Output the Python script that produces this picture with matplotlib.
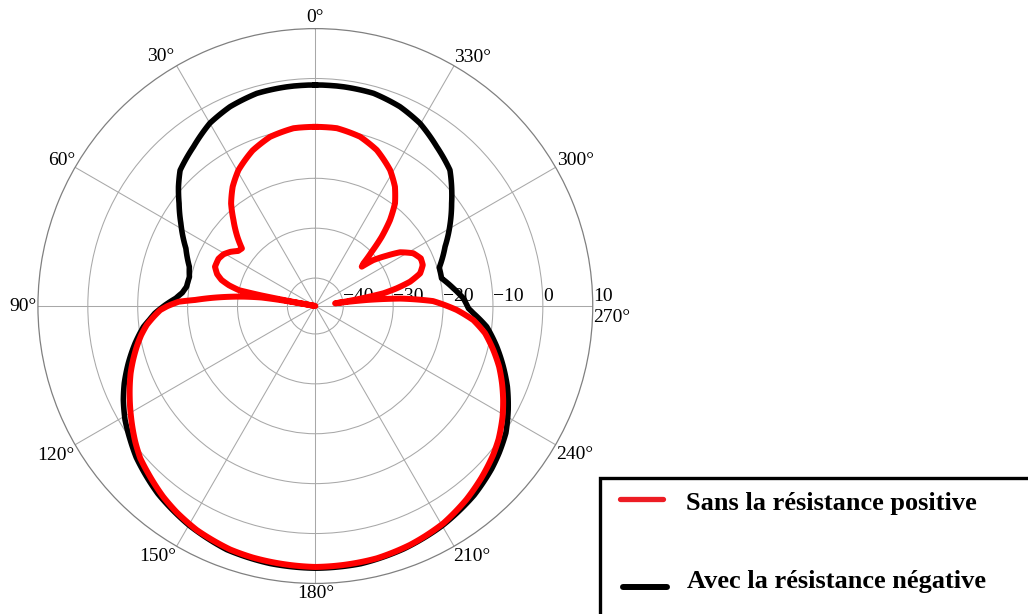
import numpy as np
import matplotlib.pyplot as plt
from matplotlib import transforms
from matplotlib.lines import Line2D
from matplotlib.patches import Rectangle

plt.rcParams['font.family'] = ['Liberation Serif', 'DejaVu Serif']
plt.rcParams['font.size'] = 14

# diagramme de rayonnement (angle en degrés, niveau en dB)
ang_sans = [0, 7, 15, 22, 29.5, 34.7, 39.4, 43.6, 48.4, 51.9, 54.5, 57.5, 60.5, 64,
            68.6, 72, 74.5, 76.5, 78.3, 78.9, 79.6, 80.3, 81, 82.5, 84, 85.5, 87.1,
            88.2, 90, 91.5, 94, 96.4, 99.5, 102.8, 106.5, 110, 116, 121, 127, 131,
            135, 141.4, 146, 152.1, 160.7, 166, 172.2, 180, 186.2, 193.7, 201.6,
            205.5, 210.5, 218, 224, 230, 234, 239.4, 243.4, 247.5, 251.7, 256.1,
            260.9, 264.9, 268.4, 272.4, 275, 276.7, 277.8, 279.3, 280.6, 282.3,
            284.4, 287.3, 290.9, 294.3, 298.3, 302.4, 305.2, 308.4, 310.3, 311.6,
            313.9, 316.2, 319, 322.2, 326.3, 331.2, 338.5, 345.2, 353.1, 360]
db_sans = [-9.7, -9.7, -10.5, -12.0, -14.3, -16.5, -19.0, -21.8, -24.7, -26.9, -26.6,
           -25.4, -24.5, -24.0, -24.0, -24.9, -26.1, -27.8, -30.0, -34.5, -45.6, -38.5,
           -34.7, -31.2, -28.0, -24.8, -21.5, -18.2, -16.0, -14.5, -13.0, -11.6, -10.2,
           -8.9, -7.5, -6.2, -4.2, -2.5, -0.4, 0.9, 1.8, 3.3, 4.2, 5.2, 6.1, 6.35, 6.5,
           6.7, 6.6, 6.45, 5.9, 5.5, 4.95, 3.6, 2.3, 0.9, -0.2, -2.0, -3.5, -5.1, -6.8,
           -8.85, -11.15, -13.8, -17.25, -22.0, -28.5, -35.2, -41.6, -36.5, -31.7,
           -28.9, -26.0, -23.6, -22.55, -22.4, -23.3, -25.5, -28.1, -30.8, -33.4,
           -32.7, -29.9, -26.4, -22.8, -19.55, -16.85, -14.5, -12.0, -10.5, -9.7, -9.7]

ang_avec = [0, 7.4, 15.4, 23.2, 30, 37.4, 44.9, 48.9, 53, 58.4, 66, 72.7, 77, 81.5,
            84.3, 86.8, 89.5, 92.6, 94.8, 96.9, 101.7, 107, 112, 116.1, 120.9, 125.9,
            130.2, 140, 150, 160, 170, 180, 190, 200, 210, 220, 227.3, 231.4, 236.3,
            241.7, 247.2, 252.1, 257.4, 263.1, 267.4, 269.1, 273, 277.3, 282.4, 287.2,
            294.6, 301.5, 307, 311.2, 315.3, 322.7, 330.2, 337, 344.7, 352.6, 360]
db_avec = [-1.3, -1.3, -1.4, -2.15, -3.3, -5.4, -7.2, -9.2, -11.4, -13.95, -17.2,
           -19.15, -19.7, -19.5, -18.8, -17.6, -15.6, -13.4, -12.2, -10.9, -8.7, -6.4,
           -4.3, -2.75, -1.15, 0.2, 1.4, 3.5, 5.1, 6.35, 6.8, 6.95, 6.85, 6.2, 5.25, 3.9,
           2.5, 1.55, 0.3, -1.7, -3.85, -6.0, -8.35, -11.0, -13.9, -14.9, -15.9, -17.7,
           -19.7, -19.6, -17.0, -13.9, -11.4, -9.3, -7.25, -5.45, -3.4, -2.2, -1.4,
           -1.3, -1.3]

r_min, r_max = -45.6, 10
rings = [-40, -30, -20, -10, 0, 10]
angle_ticks = list(range(0, 360, 30))
legend_labels = ['Sans la résistance positive', 'Avec la résistance négative']

# position (angle, rayon) des étiquettes angulaires autour du cercle
label_pos = {0: (0, 12.2), 30: (31.9, 13.2), 60: (60.1, 13.1), 90: (90, 12.9),
             120: (120, 14.4), 150: (147.9, 13.75), 180: (180, 12.0),
             210: (212, 13.7), 240: (240.1, 14.3), 300: (299.3, 14.1),
             330: (327.8, 13.35)}

W, H = 1028, 614
fig = plt.figure(figsize=(W / 100, H / 100), dpi=100)
ax = fig.add_axes([0.0369, 0.0498, 0.5397, 0.9036], projection='polar')
ax.set_theta_zero_location('N')
ax.set_theta_direction(1)
ax.set_ylim(r_min, r_max)
ax.set_yticks(rings[:-1])
ax.set_yticklabels([''] * (len(rings) - 1))
ax.set_xticks(np.deg2rad(angle_ticks))
ax.set_xticklabels([''] * len(angle_ticks))
ax.grid(color='#a8a8a8', lw=0.75)
ax.spines['polar'].set_color('#808080')
ax.spines['polar'].set_linewidth(0.9)
ax.tick_params(length=0)

curves = [
    ax.plot(np.deg2rad(ang_avec), db_avec, color='black', lw=4.0, zorder=4)[0],
    ax.plot(np.deg2rad(ang_sans), db_sans, color='#ff0000', lw=4.3, zorder=5)[0],
]
for ln in curves:
    ln.set_solid_joinstyle('round')
    # segments suivis en coordonnées polaires (arcs) plutôt qu'en cordes droites
    ln.get_path()._interpolation_steps = 12

# graduations radiales le long de l'axe 270°
up = transforms.offset_copy(ax.transData, fig=fig, x=0, y=5, units='dots')
for r in rings:
    ax.text(np.deg2rad(270), r, str(r).replace('-', '\u2212'), transform=up,
            ha='left', va='baseline', zorder=1)

# graduations angulaires
for a in angle_ticks:
    if a == 270:
        continue
    t, r = label_pos[a]
    ax.text(np.deg2rad(t), r, f'{a}°', ha='center', va='center')
down = transforms.offset_copy(ax.transData, fig=fig, x=0, y=-11, units='dots')
ax.text(np.deg2rad(270), r_max, '270°', transform=down, ha='left', va='center')

# légende
fig.add_artist(Rectangle((600 / W, 1 - 700 / H), 500 / W, 222 / H, fill=False,
                         edgecolor='black', lw=2.4, transform=fig.transFigure))
fig.add_artist(Line2D([620 / W, 663 / W], [1 - 499 / H] * 2, color='#ed1c24', lw=3.8,
                      solid_capstyle='round', transform=fig.transFigure))
fig.add_artist(Line2D([623 / W, 667 / W], [1 - 587 / H] * 2, color='black', lw=4.3,
                      solid_capstyle='round', transform=fig.transFigure))
fig.text(686 / W, 1 - 510 / H, legend_labels[0], fontsize=19, fontweight='bold',
         va='baseline')
fig.text(687 / W, 1 - 588 / H, legend_labels[1], fontsize=19, fontweight='bold',
         va='baseline')

fig.savefig('out.png', dpi=100)
